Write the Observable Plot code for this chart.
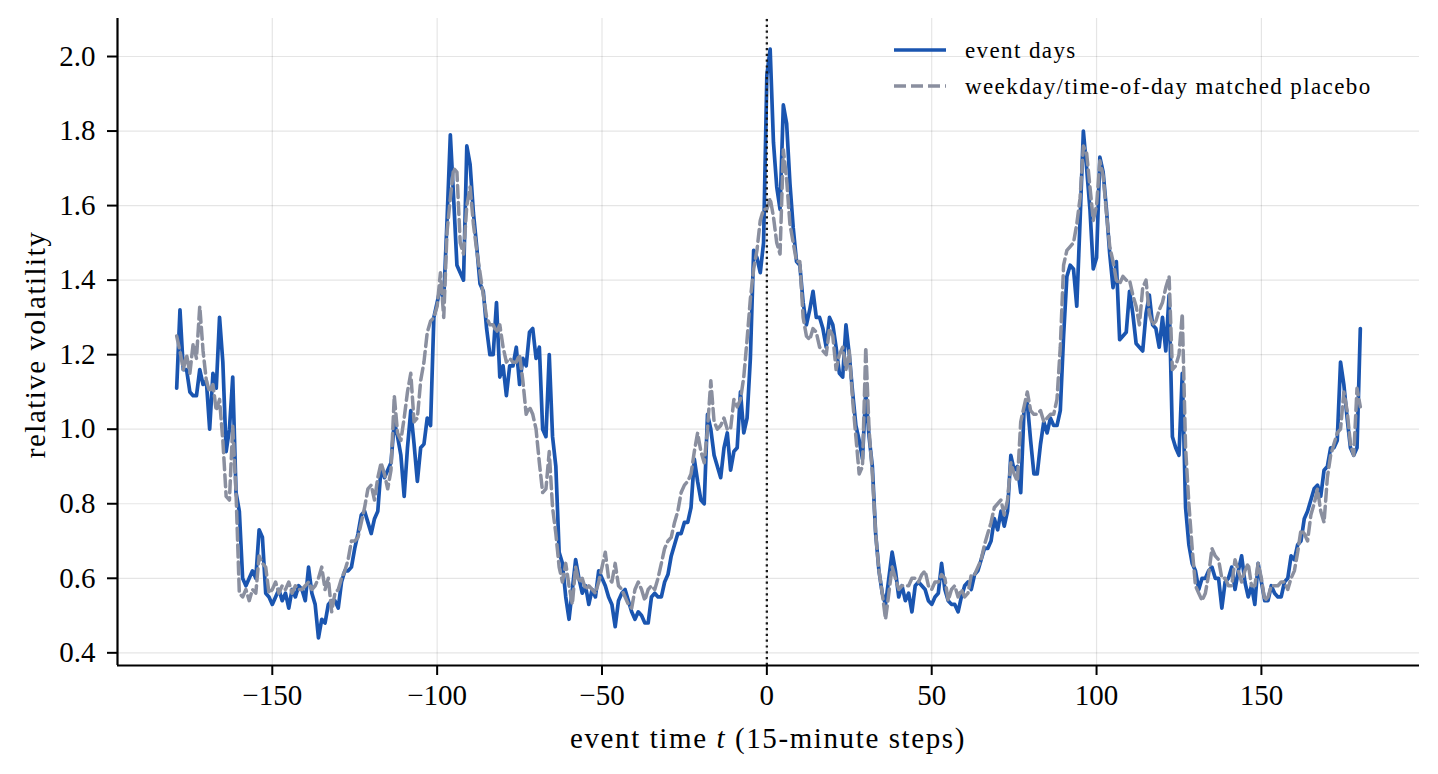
<!DOCTYPE html>
<html>
<head>
<meta charset="utf-8">
<script src="https://cdn.jsdelivr.net/npm/d3@7"></script>
<script src="https://cdn.jsdelivr.net/npm/@observablehq/plot@0.6"></script>
<style>
  html, body { margin: 0; padding: 0; background: #fff; }
  #chart { width: 1438px; height: 774px; }
</style>
</head>
<body>
<div id="chart"></div>
<script>
// ---- data (event time t runs from -179 to 180, one value per 15-minute step) ----
const tStart = -179;

const eventDays = [
  1.11, 1.32, 1.16, 1.16, 1.10, 1.09, 1.09, 1.16, 1.12, 1.13,   // -179..-170
  1.00, 1.15, 1.11, 1.30, 1.18, 0.94, 1.00, 1.14, 0.83, 0.78,   // -169..-160
  0.60, 0.58, 0.60, 0.62, 0.60, 0.73, 0.71, 0.56, 0.55, 0.53,   // -159..-150
  0.55, 0.57, 0.54, 0.56, 0.52, 0.57, 0.55, 0.58, 0.57, 0.54,   // -149..-140
  0.63, 0.56, 0.53, 0.44, 0.49, 0.48, 0.53, 0.54, 0.54, 0.52,   // -139..-130
  0.59, 0.62, 0.62, 0.63, 0.68, 0.72, 0.77, 0.78, 0.75, 0.72,   // -129..-120
  0.76, 0.78, 0.90, 0.87, 0.89, 0.91, 1.02, 0.98, 0.93, 0.82,   // -119..-110
  0.95, 1.05, 0.96, 0.86, 0.95, 0.96, 1.03, 1.01, 1.30, 1.34,   // -109..-100
  1.38, 1.35, 1.56, 1.79, 1.62, 1.44, 1.42, 1.40, 1.76, 1.71,   // -99..-90
  1.58, 1.49, 1.39, 1.37, 1.27, 1.20, 1.20, 1.34, 1.14, 1.17,   // -89..-80
  1.09, 1.17, 1.17, 1.22, 1.12, 1.19, 1.17, 1.26, 1.27, 1.19,   // -79..-70
  1.22, 1.00, 0.98, 1.20, 0.98, 0.90, 0.67, 0.64, 0.55, 0.49,   // -69..-60
  0.57, 0.65, 0.60, 0.56, 0.58, 0.53, 0.57, 0.55, 0.62, 0.60,   // -59..-50
  0.58, 0.55, 0.53, 0.47, 0.54, 0.56, 0.57, 0.54, 0.51, 0.49,   // -49..-40
  0.51, 0.50, 0.48, 0.48, 0.55, 0.56, 0.55, 0.55, 0.59, 0.61,   // -39..-30
  0.66, 0.69, 0.72, 0.72, 0.75, 0.75, 0.79, 0.92, 0.86, 0.81,   // -29..-20
  0.80, 1.04, 1.00, 0.93, 0.90, 0.87, 0.95, 0.99, 0.89, 0.94,   // -19..-10
  0.95, 1.10, 0.99, 1.03, 1.19, 1.48, 1.46, 1.42, 1.50, 1.95,   // -9..0
  2.02, 1.77, 1.65, 1.59, 1.87, 1.82, 1.66, 1.54, 1.45, 1.44,   // 1..10
  1.34, 1.28, 1.32, 1.37, 1.30, 1.30, 1.27, 1.22, 1.30, 1.28,   // 11..20
  1.22, 1.15, 1.14, 1.28, 1.20, 1.10, 1.01, 0.97, 0.92, 1.10,   // 21..30
  0.98, 0.90, 0.72, 0.62, 0.56, 0.53, 0.60, 0.67, 0.62, 0.55,   // 31..40
  0.58, 0.54, 0.56, 0.51, 0.58, 0.59, 0.58, 0.57, 0.54, 0.53,   // 41..50
  0.55, 0.56, 0.64, 0.57, 0.54, 0.53, 0.53, 0.51, 0.55, 0.58,   // 51..60
  0.59, 0.57, 0.61, 0.62, 0.65, 0.68, 0.68, 0.70, 0.76, 0.73,   // 61..70
  0.78, 0.74, 0.78, 0.93, 0.89, 0.90, 0.83, 1.05, 1.07, 0.97,   // 71..80
  0.88, 0.88, 0.96, 1.02, 0.99, 1.03, 1.01, 1.01, 1.05, 1.25,   // 81..90
  1.41, 1.44, 1.43, 1.33, 1.56, 1.80, 1.70, 1.59, 1.43, 1.46,   // 91..100
  1.73, 1.69, 1.59, 1.47, 1.38, 1.45, 1.24, 1.25, 1.26, 1.37,   // 101..110
  1.31, 1.23, 1.22, 1.21, 1.31, 1.36, 1.28, 1.27, 1.22, 1.30,   // 111..120
  1.21, 1.36, 0.98, 0.95, 0.93, 1.15, 0.79, 0.69, 0.64, 0.62,   // 121..130
  0.57, 0.60, 0.60, 0.62, 0.63, 0.60, 0.60, 0.52, 0.59, 0.60,   // 131..140
  0.63, 0.57, 0.62, 0.66, 0.59, 0.55, 0.58, 0.53, 0.64, 0.59,   // 141..150
  0.54, 0.54, 0.58, 0.56, 0.55, 0.55, 0.59, 0.60, 0.66, 0.65,   // 151..160
  0.69, 0.70, 0.76, 0.78, 0.81, 0.84, 0.85, 0.82, 0.89, 0.90,   // 161..170
  0.95, 0.95, 0.97, 1.18, 1.12, 1.03, 0.95, 0.93, 0.95, 1.27    // 171..180
];

const placebo = [
  1.25, 1.21, 1.16, 1.20, 1.15, 1.23, 1.19, 1.33, 1.21, 1.13,   // -179..-170
  1.10, 1.12, 1.05, 1.08, 0.97, 0.82, 0.81, 1.01, 0.83, 0.56,   // -169..-160
  0.55, 0.57, 0.54, 0.57, 0.56, 0.66, 0.64, 0.63, 0.56, 0.57,   // -159..-150
  0.59, 0.56, 0.58, 0.57, 0.59, 0.56, 0.58, 0.57, 0.57, 0.58,   // -149..-140
  0.59, 0.57, 0.58, 0.60, 0.63, 0.57, 0.60, 0.51, 0.56, 0.57,   // -139..-130
  0.60, 0.62, 0.65, 0.70, 0.70, 0.71, 0.75, 0.79, 0.84, 0.85,   // -129..-120
  0.81, 0.87, 0.91, 0.88, 0.84, 0.89, 1.09, 0.99, 0.97, 1.03,   // -119..-110
  1.10, 1.15, 1.02, 1.03, 1.13, 1.18, 1.26, 1.29, 1.30, 1.33,   // -109..-100
  1.42, 1.30, 1.53, 1.62, 1.70, 1.69, 1.50, 1.47, 1.60, 1.65,   // -99..-90
  1.55, 1.48, 1.42, 1.36, 1.30, 1.28, 1.28, 1.26, 1.28, 1.22,   // -89..-80
  1.18, 1.19, 1.18, 1.18, 1.20, 1.13, 1.04, 1.06, 1.04, 1.00,   // -79..-70
  0.91, 0.83, 0.84, 0.94, 0.79, 0.72, 0.63, 0.59, 0.64, 0.58,   // -69..-60
  0.53, 0.63, 0.59, 0.60, 0.57, 0.58, 0.57, 0.56, 0.59, 0.63,   // -59..-50
  0.67, 0.60, 0.59, 0.64, 0.58, 0.57, 0.55, 0.53, 0.52, 0.57,   // -49..-40
  0.59, 0.57, 0.54, 0.57, 0.58, 0.57, 0.60, 0.64, 0.68, 0.70,   // -39..-30
  0.71, 0.75, 0.78, 0.83, 0.85, 0.86, 0.88, 0.94, 0.99, 0.94,   // -29..-20
  0.91, 1.00, 1.13, 1.02, 1.00, 1.01, 1.03, 1.00, 1.00, 1.08,   // -19..-10
  1.06, 1.08, 1.14, 1.24, 1.35, 1.43, 1.48, 1.56, 1.59, 1.59,   // -9..0
  1.62, 1.57, 1.50, 1.47, 1.75, 1.67, 1.55, 1.50, 1.45, 1.45,   // 1..10
  1.30, 1.25, 1.24, 1.27, 1.26, 1.22, 1.21, 1.20, 1.27, 1.25,   // 11..20
  1.16, 1.20, 1.22, 1.16, 1.21, 1.08, 0.98, 0.88, 0.90, 1.22,   // 21..30
  1.00, 0.88, 0.72, 0.62, 0.56, 0.49, 0.56, 0.63, 0.60, 0.57,   // 31..40
  0.58, 0.58, 0.58, 0.60, 0.60, 0.59, 0.61, 0.62, 0.58, 0.57,   // 41..50
  0.59, 0.59, 0.61, 0.60, 0.54, 0.57, 0.58, 0.55, 0.57, 0.55,   // 51..60
  0.56, 0.61, 0.61, 0.63, 0.65, 0.69, 0.72, 0.75, 0.79, 0.80,   // 61..70
  0.81, 0.77, 0.81, 0.91, 0.88, 0.86, 1.02, 1.06, 1.10, 1.05,   // 71..80
  1.04, 1.04, 1.05, 1.02, 1.03, 1.04, 1.04, 1.08, 1.22, 1.44,   // 81..90
  1.48, 1.49, 1.50, 1.55, 1.62, 1.76, 1.74, 1.65, 1.56, 1.60,   // 91..100
  1.72, 1.68, 1.58, 1.49, 1.45, 1.40, 1.39, 1.41, 1.40, 1.40,   // 101..110
  1.36, 1.33, 1.28, 1.38, 1.40, 1.31, 1.28, 1.29, 1.32, 1.34,   // 111..120
  1.38, 1.41, 1.16, 1.17, 1.20, 1.31, 0.95, 0.80, 0.68, 0.58,   // 121..130
  0.56, 0.54, 0.56, 0.61, 0.68, 0.66, 0.65, 0.60, 0.60, 0.58,   // 131..140
  0.58, 0.65, 0.62, 0.59, 0.62, 0.64, 0.58, 0.58, 0.64, 0.60,   // 141..150
  0.54, 0.55, 0.58, 0.58, 0.58, 0.59, 0.59, 0.57, 0.60, 0.62,   // 151..160
  0.67, 0.73, 0.72, 0.70, 0.77, 0.80, 0.84, 0.78, 0.75, 0.87,   // 161..170
  0.93, 0.96, 0.99, 1.00, 1.10, 1.05, 0.96, 0.93, 1.11, 1.06    // 171..180
];

const seriesNames = ["event days", "weekday/time-of-day matched placebo"];
const xTicks = [-150, -100, -50, 0, 50, 100, 150];
const yTicks = [0.4, 0.6, 0.8, 1.0, 1.2, 1.4, 1.6, 1.8, 2.0];
const eventTime = [0];
const xDomain = [-196.95, 197.95];
const yDomain = [0.366, 2.102];

// ---- table built from the arrays ----
const eventRows = eventDays.map((v, i) => ({t: tStart + i, v}));
const placeboRows = placebo.map((v, i) => ({t: tStart + i, v}));

const BLUE = "#1a55b0";
const GRAY = "#8a8f9f";
const FONT = "'Liberation Serif', 'DejaVu Serif', serif";
const DASH = "12,5";

const W = 1438, H = 774;
const mL = 117, mR = 19, mT = 18, mB = 109;

const chart = Plot.plot({
  width: W,
  height: H,
  marginLeft: mL,
  marginRight: mR,
  marginTop: mT,
  marginBottom: mB,
  style: {fontFamily: FONT, fontSize: "28px", background: "#fff", color: "#000", overflow: "visible"},
  x: {domain: xDomain, ticks: xTicks, label: null},
  y: {domain: yDomain, ticks: yTicks, label: null},
  marks: [
    Plot.gridX(xTicks, {stroke: "#000", strokeOpacity: 0.1, strokeWidth: 1.2}),
    Plot.gridY(yTicks, {stroke: "#000", strokeOpacity: 0.1, strokeWidth: 1.2}),
    Plot.line(eventRows, {x: "t", y: "v", stroke: BLUE, strokeWidth: 3.7, strokeLinejoin: "round"}),
    Plot.line(placeboRows, {x: "t", y: "v", stroke: GRAY, strokeWidth: 3.5, strokeDasharray: DASH, strokeLinejoin: "round"}),
    Plot.ruleX(eventTime, {stroke: "#1a1a1a", strokeWidth: 2.3, strokeDasharray: "2.2,3.6", y1: yDomain[0], y2: yDomain[1]}),
    Plot.axisX(xTicks, {tickSize: 10, tickPadding: 9, strokeWidth: 2, fontSize: 29, label: null}),
    Plot.axisY(yTicks, {tickSize: 10, tickPadding: 12, strokeWidth: 2, fontSize: 29, tickFormat: d3.format(".1f"), label: null}),
    Plot.ruleX([xDomain[0]], {stroke: "#000", strokeWidth: 2.2}),
    Plot.ruleY([yDomain[0]], {stroke: "#000", strokeWidth: 2.2})
  ]
});

const svg = d3.select(chart);

// x axis label with italic t
const xl = svg.append("text")
  .attr("x", (mL + W - mR) / 2)
  .attr("y", 748)
  .attr("text-anchor", "middle")
  .attr("font-family", FONT)
  .attr("font-size", 29)
  .attr("letter-spacing", "1.6px")
  .attr("fill", "#000");
xl.append("tspan").text("event time ");
xl.append("tspan").attr("font-style", "italic").text("t");
xl.append("tspan").text(" (15-minute steps)");

// y axis label
svg.append("text")
  .attr("transform", `translate(45, ${(mT + H - mB) / 2 + 3}) rotate(-90)`)
  .attr("text-anchor", "middle")
  .attr("font-family", FONT)
  .attr("font-size", 29)
  .attr("letter-spacing", "1.5px")
  .attr("fill", "#000")
  .text("relative volatility");

// legend (upper right, inside the frame)
const lg = svg.append("g")
  .attr("font-family", FONT)
  .attr("font-size", 23)
  .attr("letter-spacing", "1.4px")
  .attr("text-anchor", "start");
const legendItems = [
  {name: seriesNames[0], color: BLUE, dash: "none", y: 50},
  {name: seriesNames[1], color: GRAY, dash: DASH, y: 86}
];
legendItems.forEach(d => {
  lg.append("line")
    .attr("x1", 894).attr("x2", 946)
    .attr("y1", d.y).attr("y2", d.y)
    .attr("stroke", d.color).attr("stroke-width", 3.4)
    .attr("stroke-dasharray", d.dash);
  lg.append("text")
    .attr("x", 965).attr("y", d.y + 8)
    .attr("text-anchor", "start")
    .attr("fill", "#000")
    .text(d.name);
});

document.getElementById("chart").appendChild(chart);
</script>
</body>
</html>
